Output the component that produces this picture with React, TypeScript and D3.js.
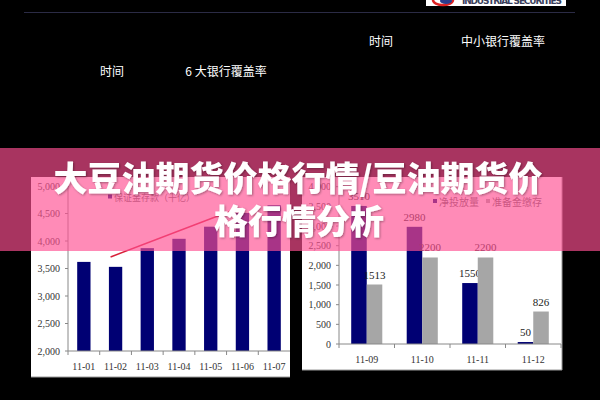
import React from "react";
import * as d3 from "d3";

// left chart: deposits (bn)
const leftCats = ["11-01", "11-02", "11-03", "11-04", "11-05", "11-06", "11-07"];
const depositValues = [3620, 3530, 3870, 4040, 4260, 4510, 4650];
const leftTicks = [2000, 2500, 3000, 3500, 4000, 4500, 5000];
const trendCats = ["11-02", "11-06"];
const trendValues = [3710, 4590];

// right chart
const rightCats = ["11-09", "11-10", "11-11", "11-12"];
const netInjection = [3510, 2980, 1550, 50];
const reserveDeposit = [1513, 2200, 2200, 826];
const rightTicks = [0, 500, 1000, 1500, 2000, 2500, 3000, 3500, 4000];
const seriesKeys = ["net", "reserve"];
const seriesNames = ["净投放量", "准备金缴存"];

const titleLines = ["大豆油期货价格行情/豆油期货价", "格行情分析"];

const NAVY = "#000073";
const GRAY = "#a6a6a6";
const serif = "'Liberation Serif', 'DejaVu Serif', serif";
const cjk = "'Noto Sans CJK SC', sans-serif";
const fmt = d3.format(",");

export default function App() {
  // left scales
  const xL = d3.scaleBand().domain(leftCats).range([68, 290]).paddingInner(0.58).paddingOuter(0.29);
  const yL = d3.scaleLinear().domain([2000, 5000]).range([351, 186]);
  const trendLine = d3
    .line<number>()
    .x((d, i) => (xL(trendCats[i]) as number) + xL.bandwidth() / 2 - 5)
    .y((d) => yL(d));

  // right scales
  const xR = d3.scaleBand().domain(rightCats).range([339, 561]).paddingInner(0.44).paddingOuter(0.22);
  const x1 = d3.scaleBand().domain(seriesKeys).range([0, xR.bandwidth()]);
  const yR = d3.scaleLinear().domain([0, 4000]).range([344, 186.7]);
  const rightData = rightCats.map((c, i) => ({ cat: c, net: netInjection[i], reserve: reserveDeposit[i] }));

  const leftBoundaries = leftCats.map((c) => (xL(c) as number) - (xL.step() * xL.paddingInner()) / 2);
  const rightBoundaries = rightCats.map((c) => (xR(c) as number) - (xR.step() * xR.paddingInner()) / 2).concat([561]);

  return (
    <svg width={600} height={400} style={{ position: "absolute", left: 0, top: 0 }}>
      <rect x={0} y={0} width={600} height={400} fill="#000" />

      {/* header strip */}
      <rect x={426} y={0} width={140} height={6} fill="#fff" />
      <ellipse cx={443} cy={0} rx={10} ry={5} fill="none" stroke="#d22" strokeWidth={2.5} />
      <ellipse cx={446} cy={1} rx={6} ry={3} fill="#2a3c8c" />
      <text x={462} y={4} fontFamily="'DejaVu Sans', sans-serif" fontWeight="bold" fontSize={9} fill="#3a3f5c" textLength={100}>
        INDUSTRIAL SECURITIES
      </text>
      <line x1={24} x2={575} y1={12.5} y2={12.5} stroke="#2b2b45" strokeWidth={1} />

      <g fontFamily={cjk} fontSize={12} fill="#fff">
        <text x={381} y={46} textAnchor="middle">时间</text>
        <text x={503} y={46} textAnchor="middle">中小银行覆盖率</text>
        <text x={112} y={76} textAnchor="middle">时间</text>
        <text x={226} y={76} textAnchor="middle">6 大银行覆盖率</text>
      </g>

      {/* left panel */}
      <rect x={31} y={177} width={259} height={200} fill="#fff" />
      <line x1={31} x2={290} y1={377} y2={377} stroke="#999" />
      <g fontFamily={serif} fontSize={10} fill="#333">
        {leftTicks.map((t) => (
          <g key={t}>
            <text x={60} y={yL(t) + 3.5} textAnchor="end">{fmt(t)}</text>
            <line x1={65} x2={68} y1={yL(t)} y2={yL(t)} stroke="#888" />
          </g>
        ))}
        {leftCats.map((c) => (
          <text key={c} x={(xL(c) as number) + xL.bandwidth() / 2} y={369.5} textAnchor="middle">{c}</text>
        ))}
      </g>
      {leftCats.map((c, i) => (
        <rect key={c} x={xL(c)} y={yL(depositValues[i])} width={xL.bandwidth()} height={yL(2000) - yL(depositValues[i])} fill={NAVY} />
      ))}
      <line x1={68} x2={68} y1={186} y2={351} stroke="#888" />
      <line x1={68} x2={290} y1={351} y2={351} stroke="#888" />
      {leftBoundaries.map((b, i) => (
        <line key={i} x1={b} x2={b} y1={351} y2={355} stroke="#888" />
      ))}
      <path d={trendLine(trendValues) as string} fill="none" stroke="#d8203a" strokeWidth={1.5} />
      <rect x={108} y={194.5} width={4} height={4} fill={NAVY} />
      <text x={114} y={201} fontFamily={cjk} fontSize={9} fill="#666">保证金存款（十亿）</text>

      {/* right panel */}
      <rect x={302} y={177} width={260} height={193} fill="#fff" />
      <line x1={302} x2={562} y1={370} y2={370} stroke="#999" />
      <line x1={562} x2={562} y1={177} y2={370} stroke="#999" />
      <g fontFamily={serif} fontSize={10} fill="#333">
        {rightTicks.map((t) => (
          <g key={t}>
            <text x={331} y={yR(t) + 3.5} textAnchor="end">{fmt(t)}</text>
            <line x1={336} x2={339} y1={yR(t)} y2={yR(t)} stroke="#888" />
          </g>
        ))}
        {rightCats.map((c) => (
          <text key={c} x={(xR(c) as number) + xR.bandwidth() / 2} y={362.5} textAnchor="middle">{c}</text>
        ))}
      </g>
      {rightData.map((d) => (
        <g key={d.cat} transform={`translate(${xR(d.cat)},0)`}>
          {seriesKeys.map((k, j) => {
            const v = (d as any)[k] as number;
            return (
              <g key={k}>
                <rect x={x1(k)} y={yR(v)} width={x1.bandwidth()} height={yR(0) - yR(v)} fill={j === 0 ? NAVY : GRAY} />
                <text x={(x1(k) as number) + x1.bandwidth() / 2} y={yR(v) - 6} textAnchor="middle" fontFamily={serif} fontSize={11} fill="#222">
                  {v}
                </text>
              </g>
            );
          })}
        </g>
      ))}
      <line x1={339} x2={339} y1={186.7} y2={344} stroke="#888" />
      <line x1={339} x2={561} y1={344} y2={344} stroke="#888" />
      {rightBoundaries.map((b, i) => (
        <line key={i} x1={b} x2={b} y1={344} y2={348} stroke="#888" />
      ))}
      <g fontFamily={cjk} fontSize={10} fill="#666">
        <rect x={433} y={199} width={4} height={4} fill={NAVY} />
        <text x={439} y={205.5}>{seriesNames[0]}</text>
        <rect x={486} y={199} width={4} height={4} fill={GRAY} />
        <text x={492} y={205.5}>{seriesNames[1]}</text>
      </g>

      {/* banner */}
      <rect x={0} y={148} width={600} height={103} fill="rgb(255,79,145)" fillOpacity={0.66} />
      <defs>
        <filter id="ts" x="-10%" y="-30%" width="120%" height="160%">
          <feDropShadow dx={1} dy={1} stdDeviation={1.2} floodColor="#000" floodOpacity={0.35} />
        </filter>
      </defs>
      <g fontFamily={cjk} fontWeight={900} fontSize={34} fill="#fff" textAnchor="middle" filter="url(#ts)">
        <text x={298} y={191}>{titleLines[0]}</text>
        <text x={299} y={234}>{titleLines[1]}</text>
      </g>
    </svg>
  );
}
